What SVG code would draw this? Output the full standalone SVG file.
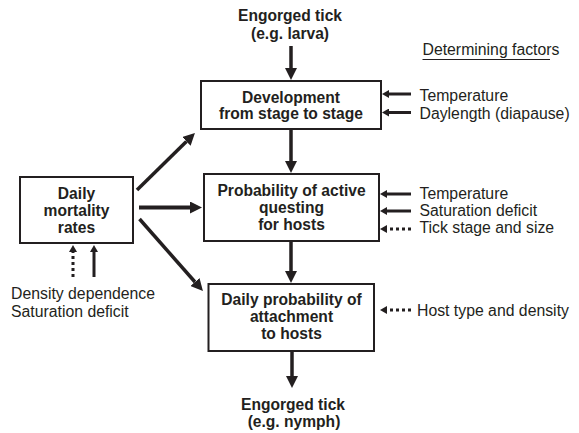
<svg xmlns="http://www.w3.org/2000/svg" width="579" height="433" viewBox="0 0 579 433">
<defs>
<style>
text{font-family:"Liberation Sans",Arial,Helvetica,sans-serif;font-size:15.8px;fill:#231f20}
.b{font-weight:bold;text-anchor:middle;font-size:15.6px}
.box{fill:#fff;stroke:#231f20;stroke-width:2}
.main{stroke:#231f20;stroke-width:3.5;fill:none;marker-end:url(#big)}
.thin{stroke:#231f20;stroke-width:3;fill:none;marker-end:url(#small)}
.dot{stroke:#231f20;stroke-width:3;stroke-dasharray:3 3;fill:none;marker-end:url(#small)}
</style>
<marker id="big" markerUnits="userSpaceOnUse" viewBox="0 0 12 12" markerWidth="12" markerHeight="12" refX="0" refY="6" orient="auto">
<path d="M0,0 L12,6 L0,12 z" fill="#231f20"/>
</marker>
<marker id="small" markerUnits="userSpaceOnUse" viewBox="0 0 7 8" markerWidth="7" markerHeight="8" refX="0" refY="4" orient="auto">
<path d="M0,0 L7,4 L0,8 z" fill="#231f20"/>
</marker>
</defs>
<rect width="579" height="433" fill="#fff"/>

<g id="connectors">
<line class="main" x1="291" y1="46" x2="291" y2="68"/>
<line class="main" x1="291" y1="130" x2="291" y2="161"/>
<line class="main" x1="291" y1="242" x2="291" y2="271"/>
<line class="main" x1="292" y1="352" x2="292" y2="376"/>
<line class="main" x1="137" y1="190" x2="186.4" y2="141.4"/>
<line class="main" x1="139" y1="207.5" x2="190" y2="207.5" style="stroke-width:4"/>
<line class="main" x1="139.5" y1="219" x2="195" y2="282"/>
<line class="thin" x1="411" y1="94" x2="389" y2="94"/>
<line class="thin" x1="411" y1="112.5" x2="389" y2="112.5"/>
<line class="thin" x1="411" y1="194" x2="387" y2="194"/>
<line class="thin" x1="411" y1="211" x2="387" y2="211"/>
<line class="dot" x1="411" y1="229" x2="387" y2="229"/>
<line class="dot" x1="411" y1="310" x2="387" y2="310"/>
<line class="dot" x1="73" y1="277" x2="73" y2="252"/>
<line class="thin" x1="94" y1="277" x2="94" y2="252"/>
</g>

<g id="tick-top">
<text class="b" x="290" y="21">Engorged tick</text>
<text class="b" x="290" y="38.5">(e.g. larva)</text>
</g>

<g id="development">
<rect class="box" x="201" y="81" width="180" height="48"/>
<text class="b" x="291" y="102.5">Development</text>
<text class="b" x="291" y="119">from stage to stage</text>
</g>

<g id="questing">
<rect class="box" x="204" y="174" width="175" height="67"/>
<text class="b" x="291.5" y="196">Probability of active</text>
<text class="b" x="291.5" y="213">questing</text>
<text class="b" x="291.5" y="230">for hosts</text>
</g>

<g id="attachment">
<rect class="box" x="208.5" y="284" width="165.5" height="67"/>
<text class="b" x="291.5" y="305">Daily probability of</text>
<text class="b" x="291.5" y="322">attachment</text>
<text class="b" x="291.5" y="339">to hosts</text>
</g>

<g id="tick-bottom">
<text class="b" x="293" y="410">Engorged tick</text>
<text class="b" x="294" y="427">(e.g. nymph)</text>
</g>

<g id="mortality">
<rect class="box" x="20" y="177" width="113" height="66"/>
<text class="b" x="76.5" y="198.5">Daily</text>
<text class="b" x="76.5" y="216">mortality</text>
<text class="b" x="76.5" y="233">rates</text>
</g>

<g id="factors">
<text x="422.5" y="55">Determining factors</text>
<line x1="422.5" y1="59.5" x2="550" y2="59.5" stroke="#231f20" stroke-width="1"/>
<text x="419.5" y="101">Temperature</text>
<text x="419.5" y="119">Daylength (diapause)</text>
<text x="419.5" y="198.5">Temperature</text>
<text x="419.5" y="215.5">Saturation deficit</text>
<text x="419.5" y="233">Tick stage and size</text>
<text x="417" y="316">Host type and density</text>
<text x="11" y="298.5">Density dependence</text>
<text x="11" y="316.5">Saturation deficit</text>
</g>
</svg>
